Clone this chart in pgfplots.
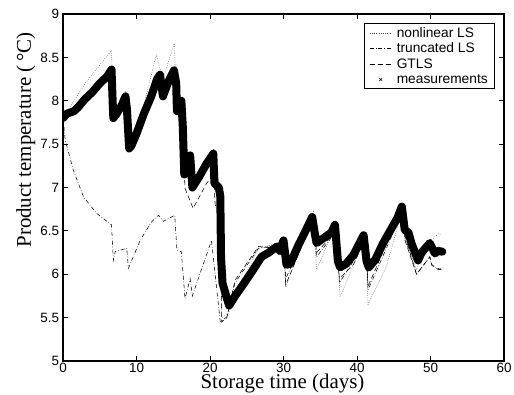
\documentclass[border=0pt]{standalone}
\usepackage{pgfplots}
\pgfplotsset{compat=1.18}
\usepackage{fontspec}
\setmainfont{Liberation Serif}
\setsansfont{Liberation Sans}
\begin{document}
\begin{tikzpicture}
\begin{axis}[
  scale only axis,
  width=441bp, height=347bp,
  xmin=0, xmax=60, ymin=5, ymax=9,
  xtick={0,10,...,60},
  ytick={5,5.5,...,9},
  tick align=inside,
  xtick pos=both, ytick pos=both,
  major tick length=5bp,
  axis line style={black, line width=1.2bp},
  major tick style={line width=0.9bp, black},
  /pgf/number format/assume math mode=true,
  tick label style={font=\fontsize{13.5}{14}\sffamily},
  xticklabel style={yshift=1bp},
  yticklabel style={xshift=-0.5bp},
  xlabel={Storage time (days)},
  ylabel={Product temperature (\,°C)},
  label style={font=\fontsize{21}{22}\selectfont},
  xlabel style={at={(axis description cs:0.4977,0)}, anchor=base, yshift=-27.5bp},
  ylabel style={at={(axis description cs:-0.0726,0.637)}, anchor=base},
  legend style={at={(0.9796,0.974)}, anchor=north east, draw=black, line width=1bp,
     font=\fontsize{13.8}{14}\sffamily, row sep=0.8bp, inner xsep=5bp, inner ysep=1.8bp,
     nodes={inner sep=1.8bp},
     /tikz/every odd column/.append style={column sep=3bp}},
  legend cell align=left,
  legend image code/.code={\draw[#1] (0bp,0bp) -- (22bp,0bp);},
]
% nonlinear LS
\addplot[black!75, line width=0.55bp, dash pattern=on 0.6bp off 1.6bp] coordinates {
(0,7.80)(3,8.20)(6.6,8.58)(6.85,7.82)(8.5,8.10)(9.0,7.45)(11,7.95)(12.7,8.53)(13.6,8.25)
(15.15,8.66)(15.5,7.90)(16.1,8.00)(16.5,7.10)(17.3,7.35)(17.6,6.95)(20.5,7.45)(21.4,6.95)
(21.6,5.50)(22.5,5.55)(24,5.85)(26.6,6.30)(29,6.35)(30.0,6.38)(30.3,5.85)(32,6.25)
(34.05,6.72)(34.5,6.05)(36,6.35)(37.2,6.55)(37.7,5.74)(39.5,6.10)(41.2,6.45)(41.5,5.65)
(44.0,6.09)(46.3,6.78)(46.5,6.40)(48.1,6.05)(49.5,6.35)(51.1,6.47)(51.5,6.45)};
\addlegendentry{nonlinear LS}
% truncated LS
\addplot[black, line width=0.55bp, dash pattern=on 4bp off 2bp on 0.6bp off 2bp] coordinates {
(0,7.80)(0.3,7.55)(1.4,7.20)(2.8,6.89)(4.6,6.70)(6.6,6.57)(6.85,6.16)(7.1,6.26)(8.67,6.30)
(8.9,6.07)(10.5,6.39)(12,6.60)(13.0,6.68)(13.65,6.61)(15.2,6.68)(15.5,6.28)(16.1,6.26)
(16.6,5.72)(17.3,5.95)(17.6,5.75)(20.2,6.39)(21.4,5.45)(22.3,5.51)(23.4,5.90)(26.6,6.30)
(29,6.33)(30.0,6.38)(30.3,5.95)(32,6.25)(34.05,6.68)(34.5,6.20)(37.2,6.50)(37.6,5.90)
(39.5,6.15)(41.2,6.42)(41.5,5.82)(44,6.30)(46.3,6.75)(46.5,6.45)(48.1,6.00)(49.9,6.20)
(50.2,6.10)(51.5,6.05)};
\addlegendentry{truncated LS}
% GTLS
\addplot[black, line width=0.55bp, dash pattern=on 5bp off 3bp] coordinates {
(0,7.80)(6.6,8.36)(6.85,7.80)(8.5,8.05)(9.0,7.45)(13.2,8.30)(13.6,8.05)(15.1,8.35)
(15.5,7.88)(16.1,8.00)(16.6,6.99)(17.7,6.76)(19.55,7.05)(20.5,7.15)(20.7,6.80)(21.4,6.70)
(21.6,5.45)(22.3,5.50)(23.4,5.93)(26.6,6.32)(29,6.30)(30.0,6.36)(30.3,5.88)(32,6.22)
(34.05,6.65)(34.5,6.25)(37.2,6.50)(37.6,5.95)(39.5,6.11)(41.2,6.42)(41.5,5.86)(44,6.35)
(46.3,6.78)(46.5,6.40)(48.1,6.00)(49.9,6.20)(50.2,6.11)(51.1,6.05)(51.5,6.07)};
\addlegendentry{GTLS}
% measurements
\addplot[black, line width=8bp, line join=round, line cap=round,
  legend image code/.code={\draw[black, line width=0.6bp] plot[mark=x, mark size=1.8bp] coordinates {(11bp,0bp)};}]
 coordinates {
(0,7.80)(0.5,7.85)(1.5,7.88)(2,7.92)(3,8.02)(4,8.10)(5,8.20)(6,8.28)(6.6,8.36)(6.75,8.00)
(6.85,7.80)(7.3,7.85)(8.0,7.95)(8.5,8.05)(8.7,7.90)(9.0,7.45)(9.3,7.48)(10,7.62)(11,7.85)
(12,8.05)(12.8,8.25)(13.2,8.30)(13.6,8.05)(13.8,8.10)(14.5,8.25)(15.1,8.35)(15.4,8.20)
(15.5,7.88)(15.8,7.95)(16.1,8.00)(16.3,7.70)(16.5,7.15)(17.0,7.30)(17.3,7.37)(17.6,7.00)
(18.5,7.12)(19.5,7.27)(20.45,7.39)(20.6,7.05)(21.2,7.00)(21.4,6.90)(21.5,6.20)(21.7,5.90)
(22.2,5.75)(22.6,5.64)(23.5,5.76)(24.5,5.88)(25.7,6.03)(27.0,6.20)(28.0,6.25)(29.1,6.32)
(29.5,6.27)(30.0,6.39)(30.4,6.11)(30.9,6.12)(32,6.33)(33,6.50)(33.9,6.66)(34.3,6.45)
(34.5,6.36)(35.5,6.42)(36.5,6.48)(37.0,6.57)(37.4,6.15)(37.7,6.08)(38.5,6.12)(39.5,6.22)
(40.9,6.45)(41.3,6.15)(41.6,6.08)(42.5,6.17)(43.5,6.35)(44.5,6.50)(45.5,6.65)(46.1,6.78)
(46.5,6.51)(47.0,6.48)(47.4,6.36)(48.3,6.16)(48.8,6.25)(49.9,6.36)(50.6,6.24)(51.0,6.27)
(51.6,6.26)};
\addlegendentry{measurements}
\end{axis}
\pgfresetboundingbox
\path (current axis.south west) ++(-63bp,-33bp) coordinate (bl);
\path (current axis.north east) ++(10bp,14bp) coordinate (tr);
\path[use as bounding box] (bl) rectangle (tr);
\end{tikzpicture}
\end{document}
